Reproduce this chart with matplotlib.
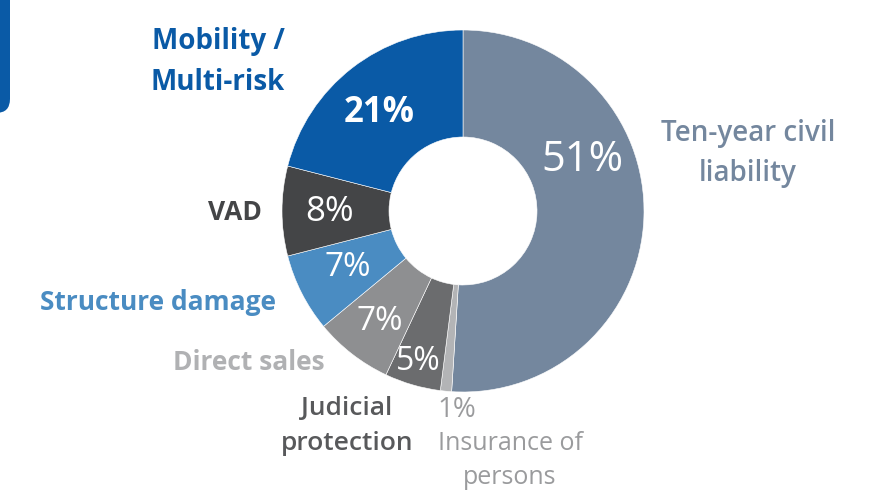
import matplotlib.pyplot as plt
from matplotlib.patches import FancyBboxPatch

# Données (ordre horaire depuis le haut)
labels = ["Ten-year civil\nliability", "Insurance of\npersons", "Judicial\nprotection",
          "Direct sales", "Structure damage", "VAD", "Mobility /\nMulti-risk"]
values = [51, 1, 5, 7, 7, 8, 21]
colors = ["#74879e", "#b3b4b6", "#6b6c6e", "#8e8f91", "#4a8cc2", "#444547", "#0a5aa6"]
label_colors = ["#74879e", "#9a9b9d", "#58595b", "#b0b1b3", "#4a8cc2", "#444547", "#0a5aa6"]

W, H = 890, 495
plt.rcParams["font.family"] = ["Open Sans", "DejaVu Sans"]
fig = plt.figure(figsize=(W / 100, H / 100), dpi=100)
ax = fig.add_axes([0, 0, 1, 1])

cx, cy, R = 463, H - 211, 181
ax.pie(values, colors=colors, startangle=90, counterclock=False, center=(cx, cy),
       radius=R, wedgeprops=dict(width=R - 74, edgecolor="white", linewidth=0.4),
       frame=True)
ax.set_xlim(0, W)
ax.set_ylim(0, H)
ax.set_aspect("equal")
ax.axis("off")

# Pourcentages dans l'anneau
pct_pos = [(582, 160, 30, "normal"), None, (418, 362, 23, "normal"), (380, 321, 24, "normal"),
           (348, 268, 24, "normal"), (330, 212, 25, "normal"), (379, 113, 25, "bold")]
for v, p in zip(values, pct_pos):
    if p is None:
        continue
    x, y, fs, fw = p
    ax.text(x, H - y, f"{v}%", color="white", fontsize=fs, fontweight=fw,
            ha="center", va="center")
ax.text(457, H - 410, f"{values[1]}%", color="#9a9b9d", fontsize=20,
        ha="center", va="center")

# Libellés des catégories : (x, y première ligne, alignement, graisse, interligne px, taille)
lab_pos = [(748, 133, "center", "semibold", 40, 20),
           (510, 443, "center", "normal", 35, 18),
           (347, 409, "center", "semibold", 34, 19),
           (325, 362, "right", "bold", 0, 19),
           (276, 302, "right", "bold", 0, 19),
           (262, 212, "right", "bold", 0, 19),
           (218, 42, "center", "bold", 40, 20)]
for lab, col, (x, y, ha, fw, sp, fs) in zip(labels, label_colors, lab_pos):
    for i, line in enumerate(lab.split("\n")):
        ax.text(x, H - y - i * sp, line, color=col, fontsize=fs, fontweight=fw,
                ha=ha, va="center")

# Bandeau bleu à gauche
ax.add_patch(FancyBboxPatch((-30, H - 113), 40, 140, boxstyle="round,pad=0,rounding_size=14",
                            facecolor="#0a5aa6", edgecolor="none", clip_on=False))

fig.savefig("out.png", dpi=100)
